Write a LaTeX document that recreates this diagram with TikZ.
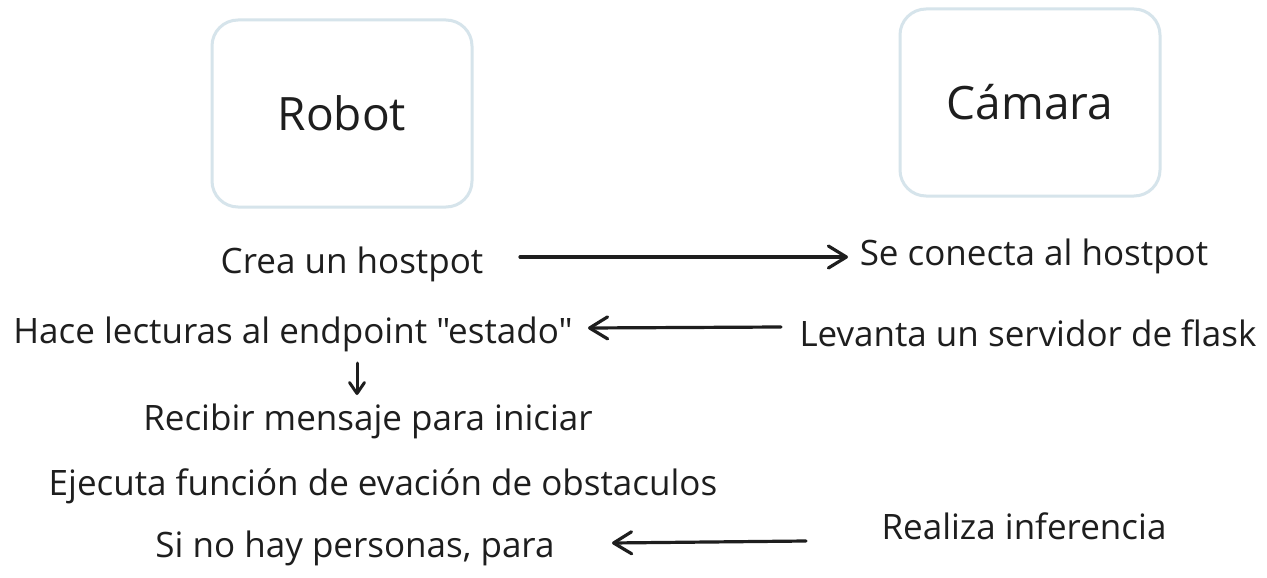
\documentclass[tikz,border=0pt]{standalone}
\usepackage{fontspec}
\setmainfont{Open Sans}[Ligatures=TeXOff]
\usetikzlibrary{arrows.meta}
\definecolor{ink}{HTML}{1E1E1E}
\definecolor{boxline}{HTML}{D6E4EB}
\begin{document}
\begin{tikzpicture}[x=1pt,y=-1pt,
  actor/.style={draw=boxline, line width=3pt, rounded corners=26pt, minimum width=260pt, minimum height=187pt, text=ink, font=\fontsize{46}{54}\selectfont, inner sep=0pt},
  txt/.style={font=\fontsize{35}{40}\selectfont, text=ink, anchor=base, inner sep=0pt},
  flow/.style={draw=ink, line width=3.2pt, line cap=round, -{Straight Barb[length=18pt,width=22pt,round]}},
  flowsmall/.style={draw=ink, line width=3pt, line cap=round, -{Straight Barb[length=11pt,width=15pt,round]}}]
\useasboundingbox (0,0) rectangle (1267,578);
\fill[white] (0,0) rectangle (1267,578);
\node[actor] (robot) at (342,113.5) {Robot};
\node[actor] (camara) at (1030,102.5) {Cámara};

\node[txt] (crea) at (352,273) {Crea un hostpot};
\node[txt] (conecta) at (1034,265) {Se conecta al hostpot};
\node[txt] (hace) at (293,343) {Hace lecturas al endpoint "estado"};
\node[txt] (levanta) at (1028,346) {Levanta un servidor de flask};
\node[txt] (recibir) at (368,430) {Recibir mensaje para iniciar};
\node[txt] (ejecuta) at (383,495) {Ejecuta función de evación de obstaculos};
\node[txt] (realiza) at (1024,539) {Realiza inferencia};
\node[txt] (si) at (355,557) {Si no hay personas, para};

\coordinate (a1s) at (520,257);
\coordinate (a1e) at (848,257);
\coordinate (a2s) at (781,327);
\coordinate (a2e) at (588,328);
\coordinate (a3s) at (806,541);
\coordinate (a3e) at (612,543);
\coordinate (a4s) at (357,363);
\coordinate (a4e) at (357,395);

\draw[flow] (a1s) -- (a1e);
\draw[flow] (a2s) -- (a2e);
\draw[flow] (a3s) -- (a3e);
\draw[flowsmall] (a4s) -- (a4e);
\end{tikzpicture}
\end{document}
